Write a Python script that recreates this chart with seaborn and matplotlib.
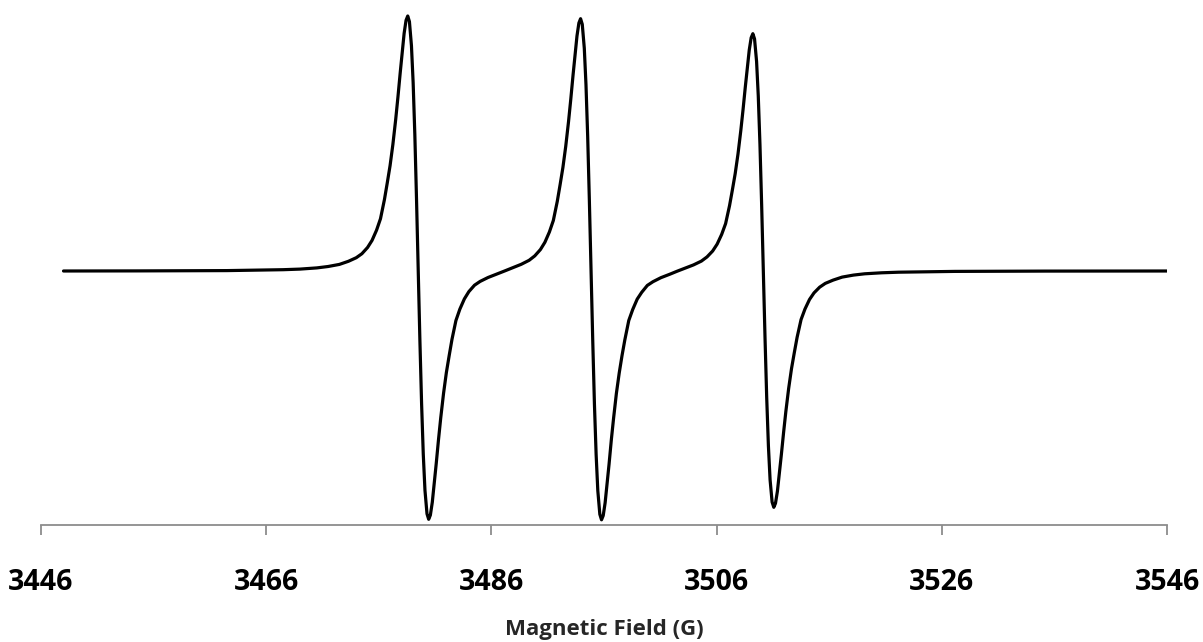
import matplotlib
matplotlib.use("Agg")
import matplotlib.pyplot as plt
import seaborn as sns
import pandas as pd

# EPR spectrum (field in G, signal in arbitrary units)
field_g = [
    3448.0, 3454.5, 3462.5, 3467.5, 3469.0, 3470.5, 3471.5, 3472.5, 3473.3,
    3474.0, 3474.5, 3475.0, 3475.4, 3475.8, 3476.15, 3476.5, 3476.75, 3477.0,
    3477.25, 3477.5, 3477.7, 3477.9, 3478.25, 3478.42, 3478.57, 3478.72,
    3478.9, 3479.05, 3479.2, 3479.35, 3479.5, 3479.65, 3479.8, 3479.95,
    3480.1, 3480.28, 3480.43, 3480.58, 3480.75, 3481.1, 3481.3, 3481.5,
    3481.75, 3482.0, 3482.25, 3482.5, 3482.85, 3483.2, 3483.6, 3484.0,
    3484.5, 3485.0, 3485.7, 3486.5, 3487.17, 3487.85, 3488.65, 3489.35,
    3489.85, 3490.35, 3490.75, 3491.15, 3491.5, 3491.85, 3492.1, 3492.35,
    3492.6, 3492.85, 3493.05, 3493.25, 3493.6, 3493.77, 3493.92, 3494.07,
    3494.25, 3494.4, 3494.55, 3494.7, 3494.85, 3495.0, 3495.15, 3495.3,
    3495.45, 3495.63, 3495.78, 3495.93, 3496.1, 3496.45, 3496.65, 3496.85,
    3497.1, 3497.35, 3497.6, 3497.85, 3498.2, 3498.55, 3498.95, 3499.35,
    3499.85, 3500.35, 3501.05, 3501.85, 3502.5, 3503.15, 3503.95, 3504.65,
    3505.15, 3505.65, 3506.05, 3506.45, 3506.8, 3507.15, 3507.4, 3507.65,
    3507.9, 3508.15, 3508.35, 3508.55, 3508.9, 3509.07, 3509.22, 3509.37,
    3509.55, 3509.7, 3509.85, 3510.0, 3510.15, 3510.3, 3510.45, 3510.6,
    3510.75, 3510.93, 3511.08, 3511.23, 3511.4, 3511.75, 3511.95, 3512.15,
    3512.4, 3512.65, 3512.9, 3513.15, 3513.5, 3513.85, 3514.25, 3514.65,
    3515.15, 3515.65, 3516.35, 3517.15, 3518.15, 3519.15, 3520.65, 3522.15,
    3527.15, 3535.15, 3546.0,
]
signal = [
    0.0, 0.1, 0.4, 1.3, 1.9, 3.1, 4.5, 6.6, 9.7,
    13.3, 17.3, 23.5, 30.6, 40.8, 52.3, 71.4, 88.0, 105.3,
    126.5, 151.5, 174.0, 198.1, 237.7, 250.7, 255.0, 249.4,
    225.2, 188.4, 136.4, 71.7, 0.5, -69.5, -132.6, -183.3,
    -219.3, -242.8, -248.3, -244.1, -231.3, -192.6, -168.9, -146.9,
    -122.4, -101.6, -84.6, -68.3, -49.5, -38.1, -27.9, -20.6,
    -14.2, -10.4, -6.5, -3.0, 0.0, 3.1, 6.7, 10.7,
    15.1, 21.4, 28.7, 39.0, 50.5, 69.6, 86.2, 103.5,
    124.5, 149.4, 171.8, 195.8, 235.0, 248.0, 252.3, 246.7,
    222.8, 186.3, 134.8, 70.6, 0.0, -69.5, -133.0, -183.3,
    -219.7, -243.3, -248.8, -244.6, -231.8, -193.1, -168.9, -147.3,
    -122.4, -102.1, -84.6, -68.9, -49.5, -38.5, -28.1, -21.3,
    -14.4, -10.7, -6.7, -3.2, -0.2, 2.6, 6.1, 9.9,
    14.1, 20.0, 26.9, 36.6, 47.4, 65.4, 81.0, 97.3,
    117.0, 140.5, 161.5, 184.1, 221.0, 233.3, 237.3, 232.1,
    209.6, 175.2, 126.7, 66.4, -0.5, -66.7, -126.7, -174.7,
    -208.8, -231.1, -236.3, -232.3, -220.3, -183.7, -161.4, -140.5,
    -117.4, -97.8, -81.7, -66.3, -48.6, -38.0, -28.5, -21.9,
    -16.2, -12.4, -9.1, -6.1, -4.1, -2.8, -1.8, -1.2,
    -0.4, -0.1, 0.0,
]
x_ticks = [3446, 3466, 3486, 3506, 3526, 3546]

df = pd.DataFrame({"field": field_g, "signal": signal})

sns.set_style("white")
plt.rcParams["font.family"] = ["Open Sans", "DejaVu Sans"]

fig = plt.figure(figsize=(12.03, 6.42), dpi=100)
ax = fig.add_axes([41 / 1203, 1 - 525 / 642, 1126 / 1203, 525 / 642])

sns.lineplot(data=df, x="field", y="signal", color="black", linewidth=2.3,
             sort=False, estimator=None, ax=ax)

ax.set_xlim(3446, 3546)
ax.set_ylim(-254, 271)
ax.set_xticks(x_ticks)
ax.set_xticklabels([str(t) for t in x_ticks], fontsize=20.5, fontweight="bold")
ax.set_yticks([])
ax.set_xlabel("")
ax.set_ylabel("")

for side in ["left", "top", "right"]:
    ax.spines[side].set_visible(False)
ax.spines["bottom"].set_color("#8c8c8c")
ax.spines["bottom"].set_linewidth(1.3)
ax.tick_params(axis="x", bottom=True, direction="out", length=7, width=1.3,
               color="#8c8c8c", pad=24, labelcolor="black")

fig.text(604 / 1203, 1 - 629 / 642, "Magnetic Field (G)", ha="center",
         va="center", fontsize=16, fontweight="bold")

fig.savefig("out.png", dpi=100)
